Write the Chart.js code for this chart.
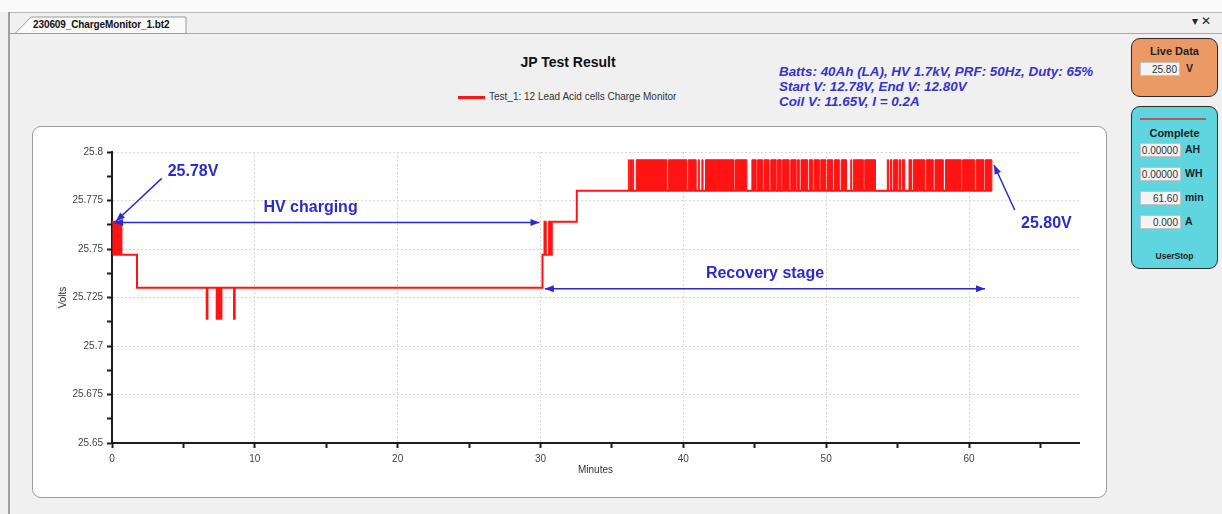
<!DOCTYPE html>
<html>
<head>
<meta charset="utf-8">
<title>JP Test Result</title>
<script src="https://cdn.jsdelivr.net/npm/chart.js@4.4.1/dist/chart.umd.min.js"></script>
<style>
  body { margin: 0; width: 1222px; height: 514px; overflow: hidden; position: relative;
         background: #f0f0f0; font-family: 'Liberation Sans', Arial, sans-serif; color: #222; }
  .abs { position: absolute; }
  .narrow { font-family: 'Liberation Sans Narrow', 'Arial Narrow', 'Liberation Sans', Arial, sans-serif; }
  #top-band { left: 0; top: 0; width: 1222px; height: 12px; background: #fafafa; }
  #frame-top { left: 8px; top: 12px; width: 1214px; height: 1px; background: #b8b8b8; }
  #frame-left { left: 8px; top: 12px; width: 2px; height: 502px; background: #a0a0a0; }
  #strip-line { left: 186px; top: 33px; width: 1036px; height: 1px; background: #a8a8a8; }
  #tab-text { left: 33px; top: 19px; font-size: 10px; font-weight: bold; color: #111; letter-spacing: -0.1px; }
  #win-ctl { left: 1192px; top: 14px; font-size: 12px; color: #222; }
  #title { left: 468px; top: 54px; width: 200px; text-align: center; font-size: 14px; font-weight: bold; color: #111; }
  #legend { left: 458px; top: 91px; font-size: 10px; color: #333; white-space: nowrap; }
  #legend i { display: inline-block; width: 27px; height: 3px; background: #ff1414; vertical-align: middle; margin-right: 4px; }
  #info { left: 779px; top: 64px; font-size: 13.4px; line-height: 15px; font-weight: bold; font-style: italic; color: #3434cc; white-space: nowrap; }
  #chart-box { left: 32px; top: 126px; width: 1075px; height: 372px; box-sizing: border-box;
               background: #fff; border: 1.5px solid #9c9c9c; border-radius: 9px; }
  #charge-chart { left: 32px; top: 126px; }
  .panel { left: 1131px; width: 87px; box-sizing: border-box; border: 1.5px solid #2a2a2a; border-radius: 9px; }
  #live { top: 38px; height: 59px; background: #eb9a66; }
  #done { top: 106px; height: 163px; background: #5fd6df; }
  .ptitle { position: absolute; left: 0; width: 100%; text-align: center; font-size: 11px; font-weight: bold; color: #222; }
  .field { position: absolute; left: 8px; width: 41px; height: 14px; background: #f4f4f4; border: 1px solid #c4c4c4;
           font-size: 10px; text-align: right; line-height: 14px; padding-right: 2px; box-sizing: border-box; color: #333; }
  .unit { position: absolute; left: 53px; font-size: 10.5px; font-weight: bold; color: #222; }
  #done .rule { position: absolute; left: 8px; top: 11px; width: 66px; height: 2px; background: #b45a5a; }
  #stop { top: 144px; font-size: 8.5px; }
</style>
</head>
<body>
<div id="top-band" class="abs"></div>
<div id="frame-top" class="abs"></div>
<div id="frame-left" class="abs"></div>
<svg class="abs" style="left:0;top:0" width="200" height="40">
  <polygon points="10,33.5 15,33.5 31,17 186,17 186,33.5" fill="#fafafa" stroke="#9a9a9a" stroke-width="1"/>
</svg>
<div id="strip-line" class="abs"></div>
<div id="tab-text" class="abs narrow">230609_ChargeMonitor_1.bt2</div>
<div id="win-ctl" class="abs">&#9662; &#10005;</div>

<div id="title" class="abs">JP Test Result</div>
<div id="legend" class="abs narrow"><i></i><span id="legend-text"></span></div>
<div id="info" class="abs">Batts: 40Ah (LA), HV 1.7kV, PRF: 50Hz, Duty: 65%<br>Start V: 12.78V, End V: 12.80V<br>Coil V: 11.65V, I = 0.2A</div>

<div id="chart-box" class="abs"></div>
<canvas id="charge-chart" class="abs" width="1075" height="372"></canvas>

<div id="live" class="abs panel">
  <div class="ptitle" style="top:6px">Live Data</div>
  <div class="field narrow" style="top:23px;left:8px;width:40px">25.80</div>
  <div class="unit" style="top:23px;left:54px">V</div>
</div>
<div id="done" class="abs panel">
  <div class="rule"></div>
  <div class="ptitle" style="top:20px">Complete</div>
  <div class="field narrow" style="top:36px">0.00000</div><div class="unit" style="top:36px">AH</div>
  <div class="field narrow" style="top:60px">0.00000</div><div class="unit" style="top:60px">WH</div>
  <div class="field narrow" style="top:84px">61.60</div><div class="unit" style="top:84px">min</div>
  <div class="field narrow" style="top:108px">0.000</div><div class="unit" style="top:108px">A</div>
  <div id="stop" class="ptitle">UserStop</div>
</div>

<script>
// ---- data ----
const seriesLabel = 'Test_1: 12 Lead Acid cells Charge Monitor';

// main stepped trace: value changes to volts[i] at minutes[i]
const minutes = [0, 0.1, 0.17, 0.24, 0.31, 0.38, 0.45, 0.52, 0.59, 0.66,
                 1.75, 6.63, 6.68, 7.33, 7.38, 7.46, 7.51, 7.61, 7.66, 8.54, 8.59,
                 30.14, 30.28, 30.37, 30.6, 30.7, 30.79, 32.54, 61.6];
const volts = [25.764, 25.747, 25.764, 25.747, 25.764, 25.747, 25.764, 25.747, 25.764, 25.747,
               25.730, 25.714, 25.730, 25.714, 25.730, 25.714, 25.730, 25.714, 25.730, 25.714, 25.730,
               25.747, 25.764, 25.747, 25.764, 25.747, 25.764, 25.780, 25.780];

// recovery stage flicker between two ADC levels: reading is high from noiseUp[i] to noiseDown[i]
const noiseLevels = [25.780, 25.796];
const noiseUp = [36.15, 36.3, 36.45, 36.7, 38.95, 40.35, 41.05, 41.3, 41.55, 43.65,
                 44.8, 45.2, 45.65, 46.12, 46.6, 46.95, 47.52, 48.0, 48.24, 48.82,
                 49.15, 49.62, 50.1, 50.58, 51.05, 51.72, 51.9, 52.7, 54.28, 54.5,
                 54.72, 55.1, 55.32, 55.8, 56.1, 57.0, 57.62, 58.35, 59.55, 60.5, 61.15];
const noiseDown = [36.22, 36.37, 36.52, 38.85, 40.25, 40.9, 41.12, 41.38, 43.55, 44.45,
                   45.1, 45.55, 46.0, 46.5, 46.85, 47.4, 47.9, 48.12, 48.7, 49.05,
                   49.52, 49.98, 50.45, 50.92, 51.42, 51.78, 52.6, 53.45, 54.36, 54.6,
                   55.0, 55.2, 55.5, 55.98, 56.9, 57.5, 58.2, 59.45, 60.4, 61.05, 61.6];

// axis ranges
const xRange = [0, 67.7];
const yRange = [25.65, 25.8];
const xStep = 5, xLabelEvery = 10;
const yStep = 0.0125;

// ---- annotations drawn in data coordinates ----
const noteColor = '#2b2bcc';
const notes = [
  { text: '25.78V', at: [3.9, 25.7897], align: 'left' },
  { from: [3.48, 25.7864], to: [0.28, 25.7643] },
  { text: 'HV charging', at: [13.9, 25.7711], align: 'center' },
  { from: [0.15, 25.7636], to: [29.93, 25.7636], both: true },
  { text: 'Recovery stage', at: [45.72, 25.7371], align: 'center' },
  { from: [30.3, 25.7295], to: [61.12, 25.7295], both: true },
  { text: '25.80V', at: [63.64, 25.7629], align: 'left' },
  { from: [63.2, 25.7701], to: [61.75, 25.7933] }
];

document.getElementById('legend-text').textContent = seriesLabel;

const mainPoints = minutes.map((m, i) => ({ x: m, y: volts[i] }));
const noisePoints = [{ x: noiseUp[0], y: noiseLevels[0] }];
noiseUp.forEach((up, i) => {
  noisePoints.push({ x: up, y: noiseLevels[1] });
  noisePoints.push({ x: noiseDown[i], y: noiseLevels[0] });
});

const narrowFont = "'Liberation Sans Narrow', 'Arial Narrow', 'Liberation Sans', Arial, sans-serif";
const isMajorY = v => Math.round((v - yRange[0]) / yStep) % 2 === 0;
const isMajorX = v => Math.round(v) % xLabelEvery === 0;

function arrowHead(ctx, fx, fy, tx, ty) {
  const a = Math.atan2(ty - fy, tx - fx);
  const len = 9, w = 3.5;
  ctx.beginPath();
  ctx.moveTo(tx, ty);
  ctx.lineTo(tx - len * Math.cos(a) - w * Math.sin(a), ty - len * Math.sin(a) + w * Math.cos(a));
  ctx.lineTo(tx - len * Math.cos(a) + w * Math.sin(a), ty - len * Math.sin(a) - w * Math.cos(a));
  ctx.closePath();
  ctx.fill();
}

const notesPlugin = {
  id: 'notes',
  afterDatasetsDraw(chart) {
    const { ctx } = chart;
    const xs = chart.scales.x, ys = chart.scales.y;
    ctx.save();
    ctx.strokeStyle = noteColor;
    ctx.fillStyle = noteColor;
    ctx.lineWidth = 1.5;
    notes.forEach(n => {
      if (n.text) {
        ctx.font = "bold 16px 'Liberation Sans', Arial, sans-serif";
        ctx.textAlign = n.align;
        ctx.textBaseline = 'middle';
        ctx.fillText(n.text, xs.getPixelForValue(n.at[0]), ys.getPixelForValue(n.at[1]));
        return;
      }
      const x1 = xs.getPixelForValue(n.from[0]), y1 = ys.getPixelForValue(n.from[1]);
      const x2 = xs.getPixelForValue(n.to[0]), y2 = ys.getPixelForValue(n.to[1]);
      ctx.beginPath();
      ctx.moveTo(x1, y1);
      ctx.lineTo(x2, y2);
      ctx.stroke();
      arrowHead(ctx, x1, y1, x2, y2);
      if (n.both) arrowHead(ctx, x2, y2, x1, y1);
    });
    ctx.restore();
  }
};

new Chart(document.getElementById('charge-chart').getContext('2d'), {
  type: 'line',
  data: {
    datasets: [
      {
        label: seriesLabel,
        data: mainPoints,
        stepped: true,
        borderColor: '#ff1414',
        borderWidth: 2,
        pointRadius: 0,
        fill: false
      },
      {
        label: 'flicker',
        data: noisePoints,
        stepped: true,
        borderColor: '#ff1414',
        backgroundColor: '#ff1414',
        borderWidth: 1,
        pointRadius: 0,
        fill: { value: noiseLevels[0] }
      }
    ]
  },
  options: {
    responsive: false,
    animation: false,
    events: [],
    layout: { padding: { left: 20, top: 26, right: 28, bottom: 22 } },
    plugins: {
      legend: { display: false },
      tooltip: { enabled: false },
      title: { display: false }
    },
    scales: {
      x: {
        type: 'linear',
        min: xRange[0],
        max: xRange[1],
        afterFit: s => { s.height = 33; },
        border: { display: true, color: '#1c1c1c', width: 2, dash: [2, 2] },
        grid: {
          color: c => (c.tick && isMajorX(c.tick.value)) ? '#d6d6d6' : 'rgba(0,0,0,0)',
          lineWidth: 1,
          tickColor: '#1c1c1c',
          tickLength: 5,
          tickWidth: 2
        },
        ticks: {
          stepSize: xStep,
          maxTicksLimit: 40,
          includeBounds: false,
          autoSkip: false,
          maxRotation: 0,
          padding: 5,
          color: '#444',
          font: { family: narrowFont, size: 10 },
          callback: v => isMajorX(v) ? String(Math.round(v)) : ''
        },
        title: {
          display: true,
          text: 'Minutes',
          color: '#333',
          font: { family: narrowFont, size: 10 },
          padding: { top: 0, bottom: 0 }
        }
      },
      y: {
        min: yRange[0],
        max: yRange[1],
        afterFit: s => { s.width = 60; },
        border: { display: true, color: '#1c1c1c', width: 2, dash: [2, 2] },
        grid: {
          color: c => (c.tick && isMajorY(c.tick.value)) ? '#d6d6d6' : 'rgba(0,0,0,0)',
          lineWidth: 1,
          tickColor: '#1c1c1c',
          tickLength: 5,
          tickWidth: 2
        },
        ticks: {
          stepSize: yStep,
          maxTicksLimit: 40,
          autoSkip: false,
          padding: 4,
          color: '#444',
          font: { family: narrowFont, size: 10 },
          callback: v => isMajorY(v) ? String(+v.toFixed(3)) : ''
        },
        title: {
          display: true,
          text: 'Volts',
          color: '#333',
          font: { family: narrowFont, size: 10 },
          padding: { top: 5, bottom: 0 }
        }
      }
    }
  },
  plugins: [notesPlugin]
});
</script>
</body>
</html>
